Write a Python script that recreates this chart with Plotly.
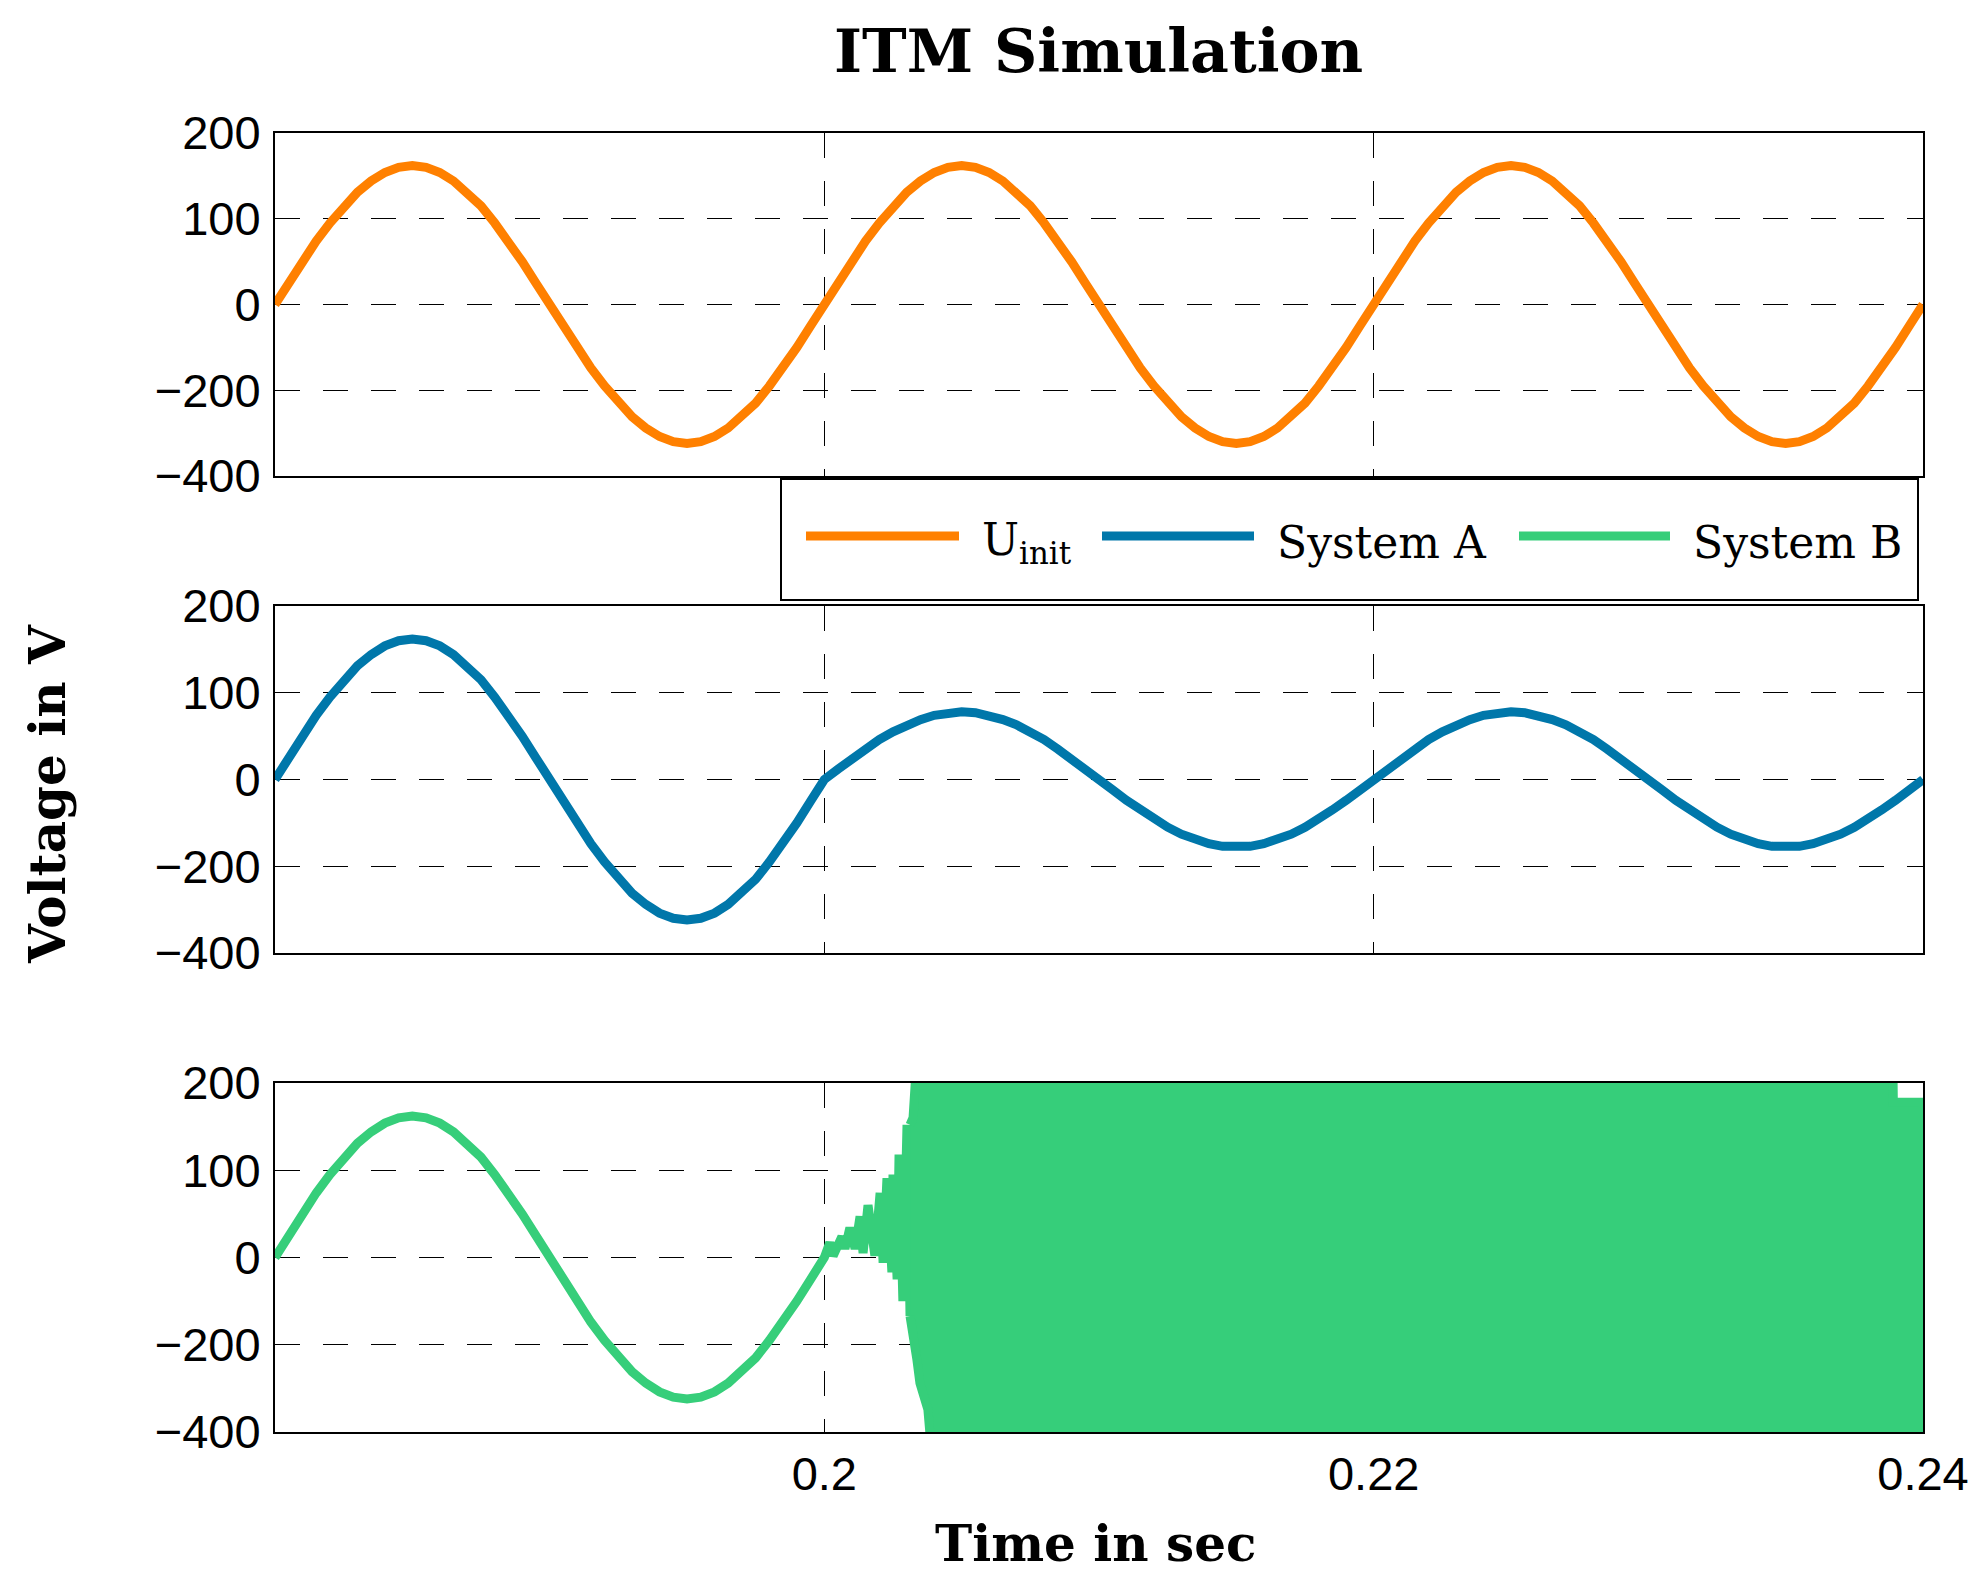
import plotly.graph_objects as go
from plotly.subplots import make_subplots

# sample grid: every 0.5 ms from 0.18 s to 0.24 s
t_start = 0.18
t_step = 0.0005
n_samples = 121
t = [round(t_start + i * t_step, 5) for i in range(n_samples)]

# one 50 Hz period of the initial voltage (V, plot units)
u_period = [0, 25, 50, 74, 95, 115, 131, 144, 154, 160, 162, 160, 154, 144, 131, 115, 95, 74, 50, 25,
            0, -25, -50, -74, -95, -115, -131, -144, -154, -160, -162, -160, -154, -144, -131, -115, -95, -74, -50, -25]

# System A after the switch at 0.2 s (reduced amplitude)
a_late_period = [0, 12, 24, 35, 46, 55, 63, 69, 74, 77, 78, 77, 74, 69, 63, 55, 46, 35, 24, 12,
                 0, -12, -24, -35, -46, -55, -63, -69, -74, -77, -78, -77, -74, -69, -63, -55, -46, -35, -24, -12]

u_init = u_period * 3 + [0]
system_a = u_period + a_late_period * 2 + [0]

# System B: same first period, then the oscillation builds up
b_burst_t = [0.2002, 0.20032, 0.20064, 0.20075, 0.20093, 0.20112, 0.2013, 0.20141, 0.20159, 0.20184,
             0.20203, 0.20214, 0.20228, 0.20246, 0.2025, 0.20265, 0.20272, 0.20286, 0.20301, 0.20312]
b_burst_v = [17, 2, 24, 10, 34, 10, 47, 5, 60, 2, 74, -6, 91, -17, 95, -25, 118, -50, 152, -67]
system_b_t = t[:41] + b_burst_t
system_b = u_period + [0] + b_burst_v

# envelope of the saturated high-frequency oscillation
b_env_t = [0.20312, 0.20323, 0.20337, 0.20348, 0.20377, 0.20392, 0.2389, 0.23892, 0.24]
b_env_hi = [152, 160, 230, 230, 230, 230, 230, 178, 178]
b_env_lo = [-67, -90, -117, -144, -174, -230, -230, -230, -230]

y_ticks = [-200, -100, 0, 100, 200]
y_tick_text = ["\u2212400", "\u2212200", "0", "100", "200"]
x_ticks = [0.2, 0.22, 0.24]
x_tick_text = ["0.2", "0.22", "0.24"]

c_u = "#FF8000"
c_a = "#0077AA"
c_b = "#36CE7A"
lw = 9

W, H = 1981, 1580
ML, MR, MT, MB = 275, 58, 133, 148
PW, PH = W - ML - MR, H - MT - MB


def px_x(px):
    return (px - ML) / PW


def px_y(py):
    return (H - MB - py) / PH


fig = make_subplots(rows=3, cols=1, shared_xaxes=True)

fig.add_trace(go.Scatter(x=t, y=u_init, mode="lines", line=dict(color=c_u, width=lw),
                         name="U_init", showlegend=False), row=1, col=1)
fig.add_trace(go.Scatter(x=t, y=system_a, mode="lines", line=dict(color=c_a, width=lw),
                         name="System A", showlegend=False), row=2, col=1)
fig.add_trace(go.Scatter(x=system_b_t, y=system_b, mode="lines", line=dict(color=c_b, width=lw),
                         name="System B", showlegend=False), row=3, col=1)
fig.add_trace(go.Scatter(x=b_env_t + b_env_t[::-1], y=b_env_hi + b_env_lo[::-1], mode="lines",
                         fill="toself", fillcolor=c_b, line=dict(color=c_b, width=lw),
                         showlegend=False, hoverinfo="skip"), row=3, col=1)

tick_font = dict(family="Liberation Sans, Arial, sans-serif", size=47, color="black")
grid = dict(showgrid=True, gridcolor="black", gridwidth=1.3, griddash="25px,23px",
            showline=True, linecolor="black", linewidth=2, mirror=True, zeroline=False,
            ticks="", tickfont=tick_font)

domains = [(px_y(476), 1.0), (px_y(953), px_y(606)), (0.0, px_y(1083))]
for i in range(1, 4):
    fig.update_yaxes(row=i, col=1, range=[-200, 200], tickvals=y_ticks, ticktext=y_tick_text,
                     domain=list(domains[i - 1]), ticklabelstandoff=3, **grid)
    fig.update_xaxes(row=i, col=1, range=[0.18, 0.24], tickvals=x_ticks, ticktext=x_tick_text,
                     showticklabels=(i == 3), ticklabelstandoff=0, **grid)

serif = "DejaVu Serif, serif"
ann = [
    dict(text="<b>ITM Simulation</b>", x=px_x(1098), y=px_y(51), font=dict(family=serif, size=60)),
    dict(text="<b>Time in sec</b>", x=px_x(1095), y=px_y(1543), font=dict(family=serif, size=50)),
    dict(text="<b>Voltage in V</b>", x=px_x(47), y=px_y(794), textangle=-90,
         font=dict(family=serif, size=50)),
]

# legend drawn by hand so the line samples are long like the original
shapes = [dict(type="rect", xref="paper", yref="paper", x0=px_x(781), x1=px_x(1918),
               y0=px_y(600), y1=px_y(479), line=dict(color="black", width=2), fillcolor="white",
               layer="above")]
legend_items = [("U<sub>init</sub>", c_u, 806, 959, 980),
                ("System A", c_a, 1102, 1254, 1275),
                ("System B", c_b, 1519, 1670, 1691)]
for label, col, lx0, lx1, tx in legend_items:
    shapes.append(dict(type="line", xref="paper", yref="paper", x0=px_x(lx0), x1=px_x(lx1),
                       y0=px_y(536), y1=px_y(536), line=dict(color=col, width=9), layer="above"))
    ann.append(dict(text=label, x=px_x(tx), y=px_y(542), xanchor="left",
                    font=dict(family=serif, size=44)))

for a in ann:
    a.setdefault("xanchor", "center")
    a.update(xref="paper", yref="paper", showarrow=False, yanchor="middle")
    a["font"]["color"] = "black"

fig.update_layout(width=W, height=H, margin=dict(l=ML, r=MR, t=MT, b=MB),
                  plot_bgcolor="white", paper_bgcolor="white",
                  annotations=ann, shapes=shapes, showlegend=False)

fig.write_html("out.html", config={"displayModeBar": False},
               post_script="document.body.style.margin='0';")
